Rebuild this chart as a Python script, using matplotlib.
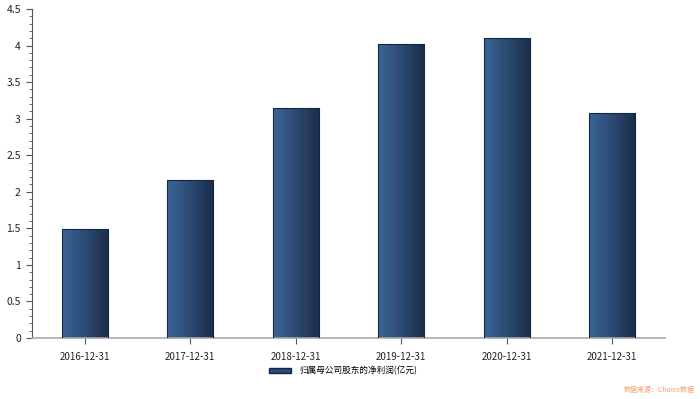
import numpy as np
import matplotlib
matplotlib.use("Agg")
import matplotlib.pyplot as plt
from matplotlib.colors import LinearSegmentedColormap
from matplotlib.patches import Rectangle
from matplotlib.ticker import MultipleLocator, FuncFormatter

plt.rcParams['font.family'] = ['Noto Sans CJK SC', 'DejaVu Sans']

dates = ["2016-12-31", "2017-12-31", "2018-12-31", "2019-12-31", "2020-12-31", "2021-12-31"]
profit = [1.49, 2.16, 3.15, 4.02, 4.10, 3.08]
legend_label = "归属母公司股东的净利润(亿元)"
source_text = "数据来源：Choice数据"

# gradient from lighter blue (left) to dark navy (right)
grad_cmap = LinearSegmentedColormap.from_list("bar_grad", ["#3b6596", "#2c4a72", "#1b2c48"])
grad = np.linspace(0, 1, 256).reshape(1, -1)


def draw_gradient_bars(ax, x, heights, width):
    bars = ax.bar(x, heights, width=width, color="none", edgecolor="#13264a", linewidth=0.8, zorder=3)
    for bar in bars:
        bx, by = bar.get_x(), bar.get_y()
        bw, bh = bar.get_width(), bar.get_height()
        im = ax.imshow(grad, cmap=grad_cmap, aspect="auto", extent=[bx, bx + bw, by, by + bh],
                       zorder=2, interpolation="bilinear")
        im.set_clip_path(bar)
    return bars


def main():
    fig = plt.figure(figsize=(7, 3.99), dpi=100)
    ax = fig.add_axes([32 / 700, 61 / 399, 633 / 700, 329 / 399])

    x = np.arange(len(dates))
    draw_gradient_bars(ax, x, profit, 0.44)

    ax.set_xlim(-0.5, len(dates) - 0.5)
    ax.set_ylim(0, 4.5)
    ax.set_xticks(x)
    ax.set_xticklabels(dates, fontsize=7, color="#222222")
    ax.yaxis.set_major_locator(MultipleLocator(0.5))
    ax.yaxis.set_minor_locator(MultipleLocator(0.1))
    ax.yaxis.set_major_formatter(FuncFormatter(lambda v, p: f"{v:g}"))

    ax.tick_params(axis="y", which="major", length=4, width=0.8, color="#555555", pad=4,
                   labelsize=7.5, labelcolor="#222222")
    ax.tick_params(axis="y", which="minor", length=2.5, width=0.6, color="#555555")
    ax.tick_params(axis="x", length=4, width=0.8, color="#555555", pad=6)

    for s in ["top", "right"]:
        ax.spines[s].set_visible(False)
    ax.spines["left"].set_color("#555555")
    ax.spines["bottom"].set_color("#aaaaaa")
    ax.spines["bottom"].set_linewidth(1.2)

    # legend
    handle = Rectangle((0, 0), 1, 1, facecolor="#2c4a72", edgecolor="#13264a")
    fig.legend([handle], [legend_label], loc="center", bbox_to_anchor=(0.49, 1 - 371 / 399),
               frameon=False, fontsize=6.2, handlelength=2.6, handleheight=0.55, handletextpad=0.9)

    fig.text(0.993, 1 - 390 / 399, source_text, ha="right", va="center", fontsize=5,
             color="#f4a070")

    fig.savefig("out.png", dpi=100)


if __name__ == "__main__":
    main()
